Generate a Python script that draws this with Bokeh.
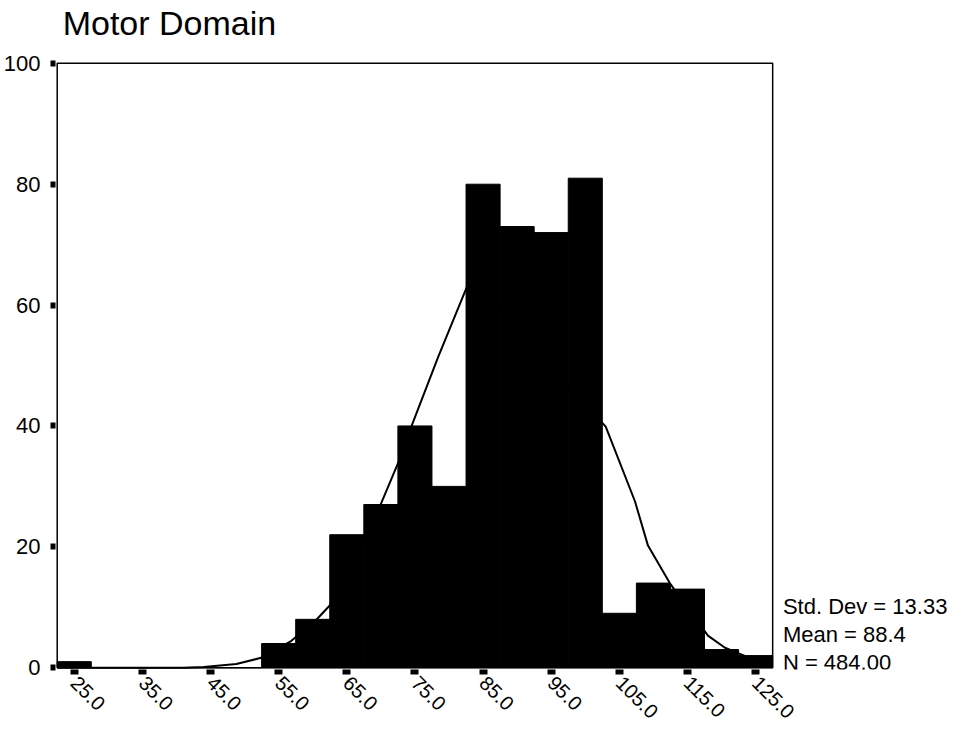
import math
from bokeh.plotting import figure
from bokeh.models import Range1d, FixedTicker, ColumnDataSource
from bokeh.core.properties import value
from bokeh.embed import file_html
from bokeh.resources import INLINE

# ---- data ----
bin_centers = [25, 30, 35, 40, 45, 50, 55, 60, 65, 70, 75, 80, 85, 90, 95, 100, 105, 110, 115, 120, 125]
counts      = [1, 0, 0, 0, 0, 0, 4, 8, 22, 27, 40, 30, 80, 73, 72, 81, 9, 14, 13, 3, 2]
bin_width = 5

curve_x = [22.5, 41, 44, 48.8, 52.3, 56.7, 60.5, 62.5, 69.9, 72.8, 74.3, 78.4, 83.2,
           103.0, 107.3, 109.2, 112.4, 118.0, 120.5, 125.0, 127.5]
curve_y = [0, 0, 0.1, 0.6, 1.6, 4.3, 7.9, 10.3, 26.8, 34.6, 39.4, 51.4, 64.6,
           39.9, 27.5, 20.2, 14.0, 5.3, 3.3, 1.2, 0.7]

x_ticks = [25, 35, 45, 55, 65, 75, 85, 95, 105, 115, 125]
x_tick_labels = ["25.0", "35.0", "45.0", "55.0", "65.0", "75.0", "85.0", "95.0", "105.0", "115.0", "125.0"]
y_ticks = [0, 20, 40, 60, 80, 100]

stats_lines = ["Std. Dev = 13.33", "Mean = 88.4", "N = 484.00"]
title_text = "Motor Domain"

FONT = "Liberation Sans"
W, H = 950, 728

# plot box limits derived from the data
x_lo = bin_centers[0] - bin_width / 2
x_hi = bin_centers[-1] + bin_width / 2
y_lo = 0
y_hi = y_ticks[-1]

# the frame spans the canvas to the right/top so that the title and
# the statistics block can be drawn as text inside it
p = figure(width=W, height=H, output_backend="svg", toolbar_location=None,
           x_range=Range1d(x_lo - 0.25, 153.6), y_range=Range1d(-0.3, 110.4),
           min_border_left=53, min_border_right=0, min_border_top=0, min_border_bottom=59)

p.grid.visible = False
p.outline_line_color = None
p.background_fill_color = "white"
p.border_fill_color = "white"

src = ColumnDataSource(dict(x=bin_centers, top=counts))
p.vbar(x="x", top="top", bottom=0, width=bin_width, source=src,
       fill_color="black", line_color="black", line_width=1)
p.line(curve_x, curve_y, line_color="black", line_width=2)

# plot box
p.multi_line(xs=[[x_lo, x_hi, x_hi, x_lo, x_lo]], ys=[[y_lo, y_lo, y_hi, y_hi, y_lo]],
             line_color="black", line_width=1.5)

xa = p.xaxis[0]
xa.ticker = FixedTicker(ticks=x_ticks)
xa.major_label_overrides = {t: l for t, l in zip(x_ticks, x_tick_labels)}
xa.major_label_orientation = -math.pi / 4
xa.major_label_text_font = FONT
xa.major_label_text_font_size = "20px"
xa.major_label_text_color = "black"
xa.major_label_standoff = 5
xa.major_tick_in = 0
xa.major_tick_out = 5
xa.major_tick_line_width = 8
xa.minor_tick_line_color = None
xa.axis_line_color = None

ya = p.yaxis[0]
ya.ticker = FixedTicker(ticks=y_ticks)
ya.major_label_text_font = FONT
ya.major_label_text_font_size = "22px"
ya.major_label_text_color = "black"
ya.major_label_standoff = 10
ya.major_tick_in = 0
ya.major_tick_out = 5
ya.major_tick_line_width = 6
ya.minor_tick_line_color = None
ya.axis_line_color = None

# title
p.text(x=[23.3], y=[106.6], text=[title_text], text_font=value(FONT),
       text_font_size=value("34px"), text_baseline="alphabetic", text_align="left",
       text_color="black")

# statistics block
p.text(x=[129.0] * 3, y=[10.1, 5.5, 0.9], text=stats_lines, text_font=value(FONT),
       text_font_size=value("22px"), text_baseline="alphabetic", text_align="left",
       text_color="black")

open("out.html", "w").write(file_html(p, INLINE))
